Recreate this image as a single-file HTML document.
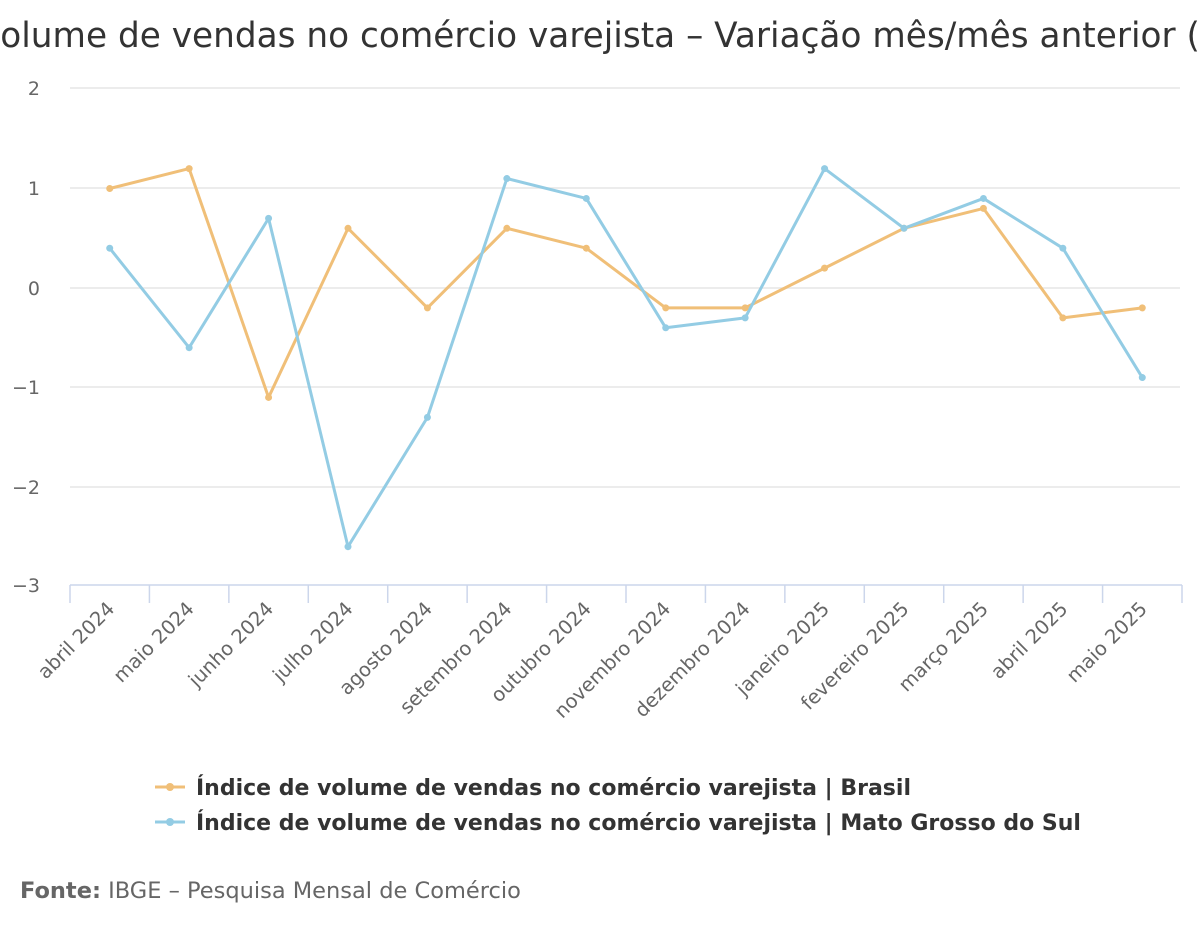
<!DOCTYPE html>
<html><head><meta charset="utf-8"><style>
body{margin:0;background:#fff;width:1200px;height:930px;overflow:hidden;font-family:"Liberation Sans","DejaVu Sans",sans-serif;}
</style></head><body>
<svg width="1200" height="930" xmlns="http://www.w3.org/2000/svg" font-family="DejaVu Sans, Liberation Sans, sans-serif">
<text x="-20" y="47" text-anchor="end" font-size="34.3" fill="#333">Índice de </text>
<text x="-20" y="47" font-size="34.3" fill="#333">volume de vendas no comércio varejista – Variação mês/mês anterior (%)</text>
<g stroke="#e6e6e6" stroke-width="1.5">
<line x1="70" x2="1180" y1="88" y2="88"/><line x1="70" x2="1180" y1="188" y2="188"/><line x1="70" x2="1180" y1="288" y2="288"/><line x1="70" x2="1180" y1="387" y2="387"/><line x1="70" x2="1180" y1="487" y2="487"/>
</g>
<line x1="70" x2="1182" y1="585" y2="585" stroke="#ccd6eb" stroke-width="1.5"/>
<g stroke="#ccd6eb" stroke-width="1.5" id="ticks"></g>
<g font-size="19" fill="#666" text-anchor="end">
<text x="40" y="95">2</text><text x="40" y="195">1</text><text x="40" y="295">0</text><text x="40" y="394">−1</text><text x="40" y="494">−2</text><text x="40" y="592">−3</text>
</g>
<g id="xl" font-size="19.5" fill="#666" text-anchor="end"></g>
<polyline id="br" fill="none" stroke="#f0bf78" stroke-width="3" stroke-linejoin="round"/>
<polyline id="ms" fill="none" stroke="#93cce4" stroke-width="3" stroke-linejoin="round"/>
<g id="pts"></g>
<line x1="155" x2="185" y1="787" y2="787" stroke="#f0bf78" stroke-width="3"/><circle cx="170" cy="787" r="4" fill="#f0bf78"/>
<text x="196" y="795" font-size="22" font-weight="bold" fill="#333">Índice de volume de vendas no comércio varejista | Brasil</text>
<line x1="155" x2="185" y1="822" y2="822" stroke="#93cce4" stroke-width="3"/><circle cx="170" cy="822" r="4" fill="#93cce4"/>
<text x="196" y="830" font-size="22" font-weight="bold" fill="#333">Índice de volume de vendas no comércio varejista | Mato Grosso do Sul</text>
<text x="20" y="898" font-size="22.5" fill="#666"><tspan font-weight="bold">Fonte:</tspan> IBGE – Pesquisa Mensal de Comércio</text>
</svg>
<script>
var ns="http://www.w3.org/2000/svg";
var labs=["abril 2024","maio 2024","junho 2024","julho 2024","agosto 2024","setembro 2024","outubro 2024","novembro 2024","dezembro 2024","janeiro 2025","fevereiro 2025","março 2025","abril 2025","maio 2025"];
var br=[1,1.2,-1.1,0.6,-0.2,0.6,0.4,-0.2,-0.2,0.2,0.6,0.8,-0.3,-0.2];
var ms=[0.4,-0.6,0.7,-2.6,-1.3,1.1,0.9,-0.4,-0.3,1.2,0.6,0.9,0.4,-0.9];
var w=(1182-70)/14;
function X(i){return 70+w*(i+0.5);}function Y(v){return 288-v*99.5;}
var t=document.getElementById("ticks"),xl=document.getElementById("xl"),p=document.getElementById("pts");
for(var i=0;i<=14;i++){var l=document.createElementNS(ns,"line");var x=70+w*i;l.setAttribute("x1",x);l.setAttribute("x2",x);l.setAttribute("y1",585);l.setAttribute("y2",603);t.appendChild(l);}
var a="",b="";
for(var i=0;i<14;i++){var x=X(i);
var tx=document.createElementNS(ns,"text");tx.setAttribute("x",x+6);tx.setAttribute("y",610);tx.setAttribute("transform","rotate(-45 "+(x+6)+" 610)");tx.textContent=labs[i];xl.appendChild(tx);
a+=x+","+Y(br[i])+" ";b+=x+","+Y(ms[i])+" ";
[[br,"#f0bf78"],[ms,"#93cce4"]].forEach(function(s){var c=document.createElementNS(ns,"circle");c.setAttribute("cx",x);c.setAttribute("cy",Y(s[0][i]));c.setAttribute("r",3.5);c.setAttribute("fill",s[1]);p.appendChild(c);});}
document.getElementById("br").setAttribute("points",a);
document.getElementById("ms").setAttribute("points",b);
</script>
</body></html>
